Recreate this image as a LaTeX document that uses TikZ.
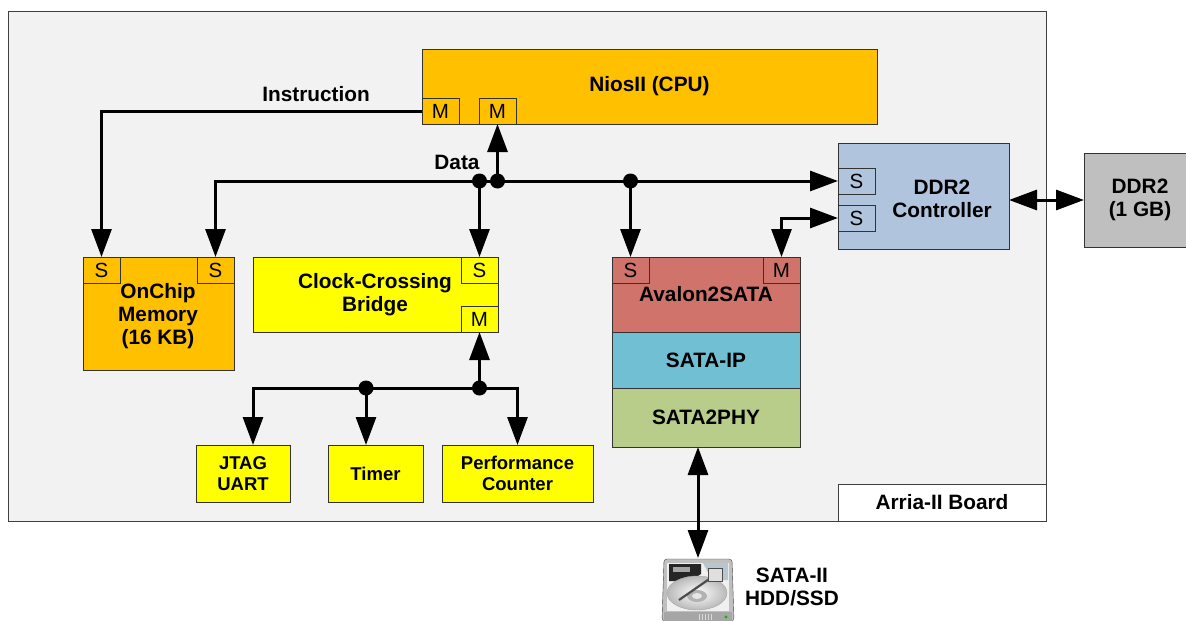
\documentclass[tikz,border=0pt]{standalone}
\usepackage{fontspec}
\setmainfont{Liberation Sans}
\usetikzlibrary{arrows.meta,calc}
\definecolor{boardbg}{HTML}{F2F2F2}
\definecolor{cpuor}{HTML}{FFC000}
\definecolor{yel}{HTML}{FFFF00}
\definecolor{ddrblue}{HTML}{B0C4DE}
\definecolor{ddrgray}{HTML}{BFBFBF}
\definecolor{avred}{HTML}{CF736B}
\definecolor{sipblue}{HTML}{70BFD3}
\definecolor{phygreen}{HTML}{B9CD8A}
\newcommand\bigfont{\bfseries\fontsize{20.8}{23}\selectfont}
\newcommand\smallfont{\bfseries\fontsize{18.5}{21}\selectfont}
\newcommand\portfont{\fontsize{20.5}{22}\selectfont}
\begin{document}
\begin{tikzpicture}[x=1pt,y=-1pt,
  blk/.style={draw=black!80, line width=0.9pt, inner sep=0pt, outer sep=0pt, anchor=north west, align=center, font=\bigfont},
  port/.style={blk, minimum width=37pt, minimum height=26pt, font=\portfont},
  lbl/.style={inner sep=0pt, align=center, font=\bigfont},
  wire/.style={line width=3pt, black},
  arr/.style={wire, -{Triangle[length=28pt,width=20pt]}},
  arrs/.style={wire, {Triangle[length=28pt,width=20pt]}-{Triangle[length=28pt,width=20pt]}},
  dot/.style={circle, fill=black, inner sep=0pt, minimum size=15pt}]
\useasboundingbox (0,0) rectangle (1186,621);
\fill[white] (0,0) rectangle (1186,621);
% board
\node[blk, draw=black!75, fill=boardbg, minimum width=1038pt, minimum height=510pt] (board) at (8,11) {};
\node[blk, draw=black!75, fill=white, minimum width=208pt, minimum height=37pt] (arria) at (838,484) {Arria-II Board};
% CPU
\node[blk, fill=cpuor, minimum width=455pt, minimum height=75pt] (nios) at (422,49) {NiosII (CPU)};
\node[port, fill=cpuor] (niosM1) at (422,98) {M};
\node[port, fill=cpuor] (niosM2) at (479,98) {M};
% DDR2 controller
\node[blk, fill=ddrblue, minimum width=171pt, minimum height=106pt] (ddrc) at (838,143) {};
\node[lbl] (ddrct) at (942,199) {DDR2\\Controller};
\node[port, fill=ddrblue] (ddrcS1) at (838,168) {S};
\node[port, fill=ddrblue] (ddrcS2) at (838,205) {S};
% DDR2 memory
\node[blk, fill=ddrgray, minimum width=112pt, minimum height=94pt] (ddr) at (1084,153) {DDR2\\(1 GB)};
% OnChip memory
\node[blk, fill=cpuor, minimum width=151pt, minimum height=113pt] (onchip) at (83,257) {};
\node[lbl] (onchipt) at (158,316) {OnChip\\Memory\\(16 KB)};
\node[port, fill=cpuor] (onS1) at (83,257) {S};
\node[port, fill=cpuor] (onS2) at (197,257) {S};
% Clock crossing bridge
\node[blk, fill=yel, minimum width=245pt, minimum height=75pt] (cc) at (253,257) {};
\node[lbl] (cct) at (375,295) {Clock-Crossing\\Bridge};
\node[port, fill=yel] (ccS) at (461,257) {S};
\node[port, fill=yel] (ccM) at (461,306) {M};
% SATA stack
\node[blk, fill=avred, minimum width=188pt, minimum height=75pt] (av) at (612,257) {Avalon2SATA};
\node[port, fill=avred] (avS) at (612,257) {S};
\node[port, fill=avred] (avM) at (763,257) {M};
\node[blk, fill=sipblue, minimum width=188pt, minimum height=56pt] (sip) at (612,332) {SATA-IP};
\node[blk, fill=phygreen, minimum width=188pt, minimum height=59pt] (phy) at (612,388) {SATA2PHY};
% peripherals
\node[blk, fill=yel, minimum width=94pt, minimum height=57pt, font=\smallfont] (jtag) at (196,445) {JTAG\\UART};
\node[blk, fill=yel, minimum width=95pt, minimum height=57pt, font=\smallfont] (timer) at (328,445) {Timer};
\node[blk, fill=yel, minimum width=151pt, minimum height=57pt, font=\smallfont] (perf) at (442,445) {Performance\\Counter};
% labels
\node[lbl] (tinstr) at (316,94) {Instruction};
\node[lbl] (tdata) at (457,162) {Data};
\node[lbl] (thdd) at (792,587) {SATA-II\\HDD/SSD};
% HDD node area
\node[inner sep=0pt, outer sep=0pt, minimum width=70pt, minimum height=63pt, anchor=north west] (hdd) at (663,558) {};
% HDD icon
\draw[gray!55!black, fill=gray!50, rounded corners=3pt] (664,559) -- (732,559) -- (734,621) -- (662,621) -- cycle;
\fill[gray!12] (667,563) rectangle (729,611);
\fill[black!85] (669,564) -- (701,564) -- (701,574) -- (690,581) -- (669,581) -- cycle;
\fill[gray!70] (673,567) rectangle (690,572);
\fill[cyan!25!gray!55] (703,563) -- (728,563) -- (728,580) -- (712,580) -- cycle;
\shade[inner color=white, outer color=gray!55] (697,593) ellipse [x radius=30, y radius=17];
\draw[gray!70] (697,593) ellipse [x radius=30, y radius=17];
\fill[gray!60] (697,596) ellipse [x radius=10, y radius=6];
\fill[gray!20] (697,596) ellipse [x radius=5, y radius=3];
\draw[gray!60!black, line width=2.2pt] (715,575) -- (679,600);
\fill[gray!25, draw=gray!60!black] (708,568) rectangle (722,581);
\fill[gray!70] (664,612) rectangle (732,621);
\foreach \gx in {699,702,...,711} \draw[gray!30, line width=0.8pt] (\gx,614) -- (\gx,620);
\fill[green!75!black] (726,617) circle (1.6);
% junctions
\coordinate (j1) at (ccS.north |- ddrcS1.west);
\coordinate (j2) at (niosM2.south |- ddrcS1.west);
\coordinate (j3) at (avS.north |- ddrcS1.west);
\coordinate (j5) at ($(ccM.south)+(0,56)$);
\coordinate (j4) at (366,0 |- j5);
% connectors
\draw[arr] (niosM1.west) -| (onS1.north);
\draw[arrs] (onS2.north) |- (ddrcS1.west);
\draw[arr] (j2) -- (niosM2.south);
\draw[arr] (j1) -- (ccS.north);
\draw[arr] (j3) -- (avS.north);
\draw[arrs] (avM.north) |- (ddrcS2.west);
\draw[arrs] (ddr.west -| ddrc.east) -- (ddr.west);
\draw[arr] (j5) -- (ccM.south);
\draw[arr] (j5) -| ($(jtag.north)+(10,0)$);
\draw[arr] (j5) -| (perf.north);
\draw[arr] (j4) -- (j4 |- timer.north);
\draw[arrs] (hdd.north) -- (hdd.north |- phy.south);
\node[dot] (d1) at (j1) {};
\node[dot] (d2) at (j2) {};
\node[dot] (d3) at (j3) {};
\node[dot] (d4) at (j4) {};
\node[dot] (d5) at (j5) {};
\end{tikzpicture}
\end{document}
